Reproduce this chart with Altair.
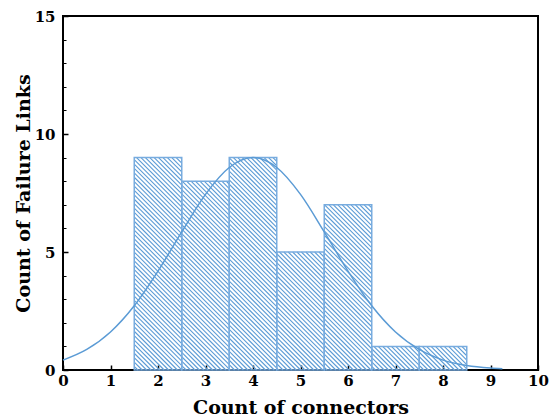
import altair as alt
import pandas as pd

# ---- data ----
connectors = [2, 3, 4, 5, 6, 7, 8]
failures = [9, 8, 9, 5, 7, 1, 1]

curve_x = [0, 0.5, 1, 1.5, 2, 2.5, 3, 3.5, 4, 4.5, 5, 5.5, 6, 6.5, 7, 7.5, 8, 8.5, 9, 9.25]
curve_y = [0.42, 0.87, 1.61, 2.72, 4.19, 5.85, 7.44, 8.58, 9.0, 8.58, 7.44, 5.85, 4.19,
           2.72, 1.61, 0.87, 0.42, 0.19, 0.08, 0.05]

x_ticks = list(range(0, 11))
y_major = [0, 5, 10, 15]
y_minor = list(range(0, 16))

# ---- layout ----
W, H = 475, 354
FONT = "DejaVu Serif"
BLUE = "#5b9bd5"
EDGE = "#78acdf"

bars = pd.DataFrame({"x": connectors, "n": failures})
curve = pd.DataFrame({"x": curve_x, "y": curve_y})

xscale = alt.Scale(domain=[0, 10], nice=False, zero=False)
yscale = alt.Scale(domain=[0, 15], nice=False)

r = (H / 15) / (W / 10)   # x-units per y-unit for a 45 degree hatch
d = 4.4 / (W / 10)        # hatch spacing in x-units

x_axis = alt.Axis(values=x_ticks, offset=-5, tickSize=5, tickWidth=1.5, tickColor="black",
                  domain=False, grid=False, labelFont=FONT, labelFontSize=15,
                  labelFontWeight="bold", labelColor="black", labelPadding=3,
                  labelFlush=False,
                  title="Count of connectors", titleFont=FONT, titleFontSize=19,
                  titleFontWeight="bold", titleColor="black", titlePadding=10)
y_axis = alt.Axis(values=y_major, offset=-5, tickSize=5, tickWidth=1.5, tickColor="black",
                  domain=False, grid=False, labelFont=FONT, labelFontSize=15,
                  labelFontWeight="bold", labelColor="black", labelPadding=8,
                  labelFlush=False,
                  title="Count of Failure Links", titleFont=FONT, titleFontSize=19,
                  titleFontWeight="bold", titleColor="black", titlePadding=1)
y_minor_axis = alt.Axis(values=y_minor, orient="left", offset=-3, tickSize=3, tickWidth=1,
                        tickColor="black", domain=False, grid=False, labels=False, title=None)

hatch = (
    alt.Chart(bars)
    .transform_calculate(x0="datum.x - 0.5")
    .transform_calculate(x1="datum.x + 0.5")
    .transform_calculate(t=f"sequence(ceil(datum.x0/{d})*{d}, datum.x1 + datum.n*{r}, {d})")
    .transform_flatten(["t"])
    .transform_calculate(xs=f"max(datum.x0, datum.t - datum.n*{r})")
    .transform_calculate(xe="min(datum.x1, datum.t)")
    .transform_calculate(ys=f"(datum.t - datum.xs)/{r}")
    .transform_calculate(ye=f"(datum.t - datum.xe)/{r}")
    .mark_rule(color=BLUE, strokeWidth=1.1)
    .encode(
        x=alt.X("xs:Q", scale=xscale, axis=x_axis),
        x2="xe:Q",
        y=alt.Y("ys:Q", scale=yscale, axis=y_axis),
        y2="ye:Q",
    )
)

outline = (
    alt.Chart(bars)
    .transform_calculate(x0="datum.x - 0.5", x1="datum.x + 0.5")
    .mark_rect(fill=None, fillOpacity=0, stroke=EDGE, strokeWidth=1.5)
    .encode(
        x=alt.X("x0:Q", scale=xscale, axis=x_axis),
        x2="x1:Q",
        y=alt.Y("n:Q", scale=yscale, axis=y_minor_axis),
        y2=alt.datum(0),
    )
)

fit = (
    alt.Chart(curve)
    .mark_line(color=BLUE, strokeWidth=1.5, interpolate="monotone")
    .encode(
        x=alt.X("x:Q", scale=xscale, axis=x_axis),
        y=alt.Y("y:Q", scale=yscale, axis=None),
    )
)

chart = (
    alt.layer(hatch, outline, fit)
    .resolve_axis(y="independent")
    .properties(
        width=W, height=H,
        autosize=alt.AutoSizeParams(type="none"),
        padding={"left": 63, "top": 16, "right": 12, "bottom": 50},
        background="white",
    )
    .configure_view(stroke="black", strokeWidth=2)
)

chart.save("out.html", embed_options={"renderer": "svg", "actions": False})
